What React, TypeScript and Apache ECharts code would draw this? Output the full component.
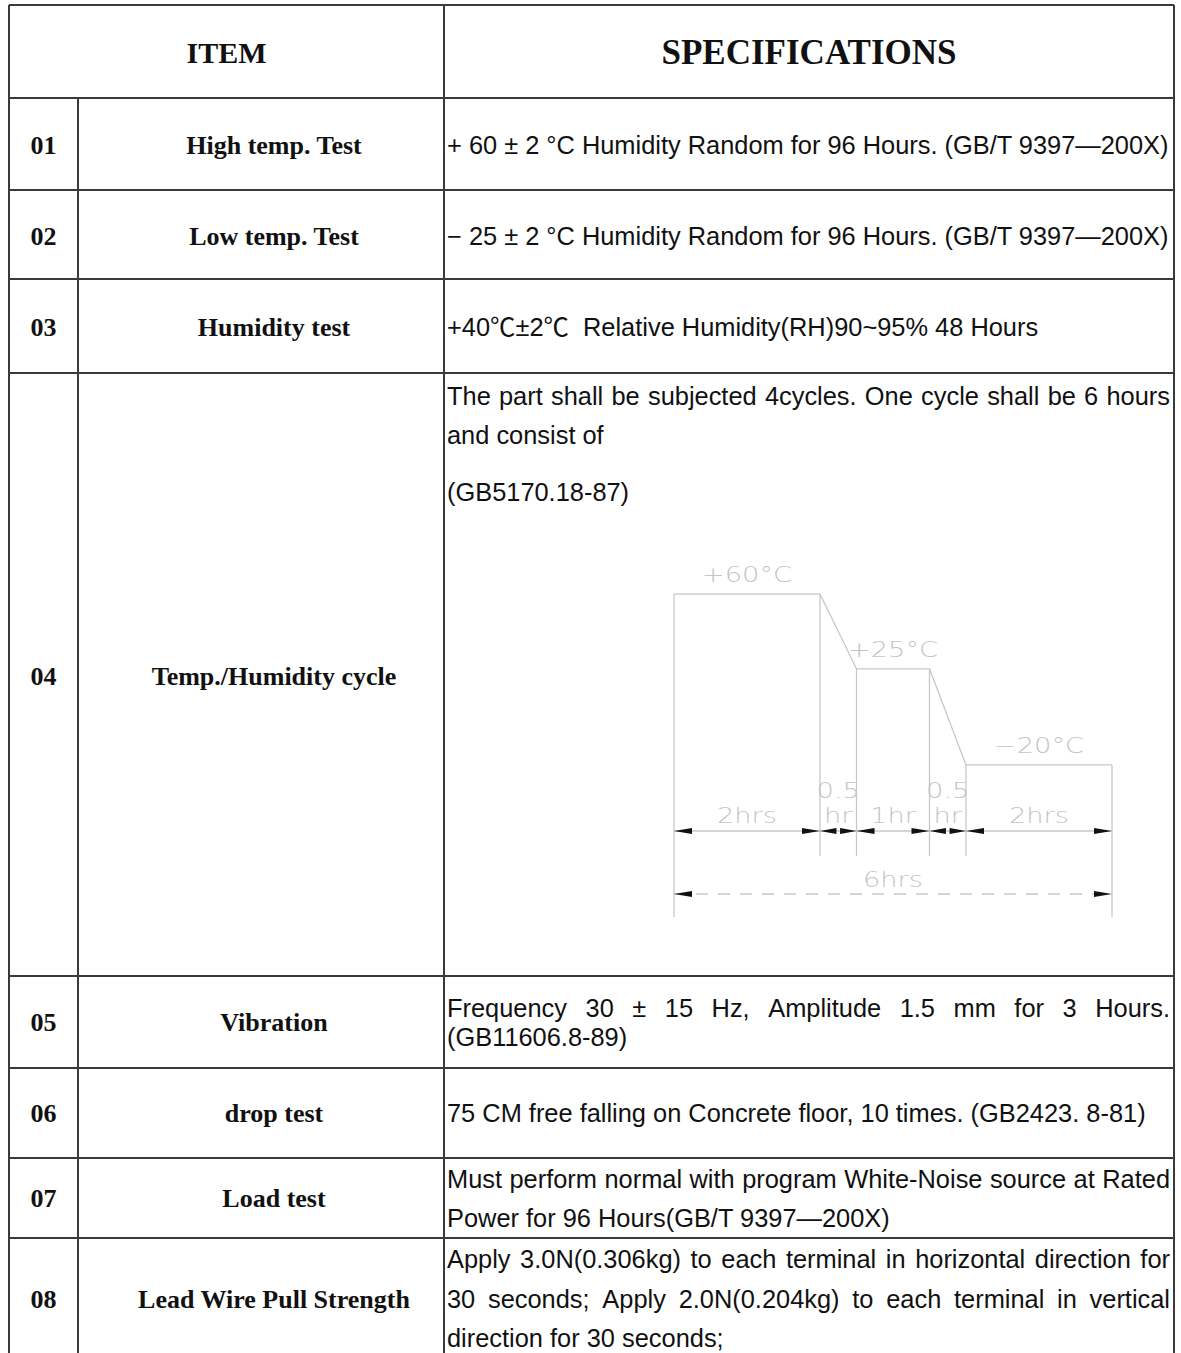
import React, { useEffect, useRef } from "react";
import * as echarts from "echarts";

// ---------------- DATA ----------------
const headerLabels = ["ITEM", "SPECIFICATIONS"];
const itemNos = ["01", "02", "03", "04", "05", "06", "07", "08"];
const itemNames = [
  "High temp. Test",
  "Low temp. Test",
  "Humidity test",
  "Temp./Humidity cycle",
  "Vibration",
  "drop test",
  "Load test",
  "Lead Wire Pull Strength",
];
const specLines: string[][] = [
  ["+ 60 ± 2 °C Humidity Random for 96 Hours. (GB/T 9397—200X)"],
  ["− 25 ± 2 °C Humidity Random for 96 Hours. (GB/T 9397—200X)"],
  ["+40℃±2℃  Relative Humidity(RH)90~95% 48 Hours"],
  ["The part shall be subjected 4cycles. One cycle shall be 6 hours", "and consist of", "(GB5170.18-87)"],
  ["Frequency 30 ± 15 Hz, Amplitude 1.5 mm for 3 Hours.", "(GB11606.8-89)"],
  ["75 CM free falling on Concrete floor, 10 times. (GB2423. 8-81)"],
  ["Must perform normal with program White-Noise source at Rated", "Power for 96 Hours(GB/T 9397—200X)"],
  [
    "Apply 3.0N(0.306kg) to each terminal in horizontal direction for",
    "30 seconds; Apply 2.0N(0.204kg) to each terminal in vertical",
    "direction for 30 seconds;",
  ],
];

// Temperature / humidity cycle (one 6 h cycle)
const profileHours = [0, 2, 2.5, 3.5, 4, 6];
const profileTemps = [60, 60, 25, 25, -20, -20];
const segmentLabels = ["2hrs", "0.5\nhr", "1hr", "0.5\nhr", "2hrs"];
const plateauLabels = ["+60°C", "+25°C", "−20°C"];
const cycleLabel = "6hrs";

// ---------------- LAYOUT / STYLE ----------------
const W = 1181;
const H = 1353;
const X_LEFT = 9;
const X_NO = 78;
const X_SPEC = 444;
const X_RIGHT = 1174;
const Y_TOP = 5;
const rowTops = [98, 190, 279, 373, 976, 1068, 1158, 1238];
const itemCenterY = [145, 236, 327, 676, 1022, 1113, 1198, 1299];
const specLineY = [[145], [236], [327], [396, 435, 492], [1008, 1037], [1113], [1179, 1218], [1259, 1299, 1338]];
const specJustify = [[false], [false], [false], [true, false, false], [true, false], [false], [true, false], [true, true, false]];
const NO_CX = 43.5;
const NAME_CX = 274;
const SPEC_X = 447;
const SPEC_R = 1170;

const BORDER = "#3a3a3a";
const TEXT = "#111";
const DIAG = "#c8c8c8";
const DIAG_TEXT = "#c4c4c4";
const ARROW = "#111";
const FONT_SPEC = "'Liberation Sans', Arial, 'Noto Sans CJK SC', sans-serif";
const FONT_SERIF = "'Liberation Serif', 'Times New Roman', serif";
const FONT_CAD = "'DejaVu Sans', sans-serif";
const SPEC_SIZE = 25.4;
const NAME_SIZE = 26;

const GRID = { left: 674, top: 594, width: 438, height: 171 };
const Y_MIN = -20;
const Y_MAX = 60;
const DIM_OFF = 66;
const EXT_OFF = 91;
const EXT_END_OFF = 152;
const CYCLE_OFF = 129;
const ARROW_LEN = 18;

const cadText = (text: string, x: number, y: number, va: string) => ({
  type: "text",
  x,
  y,
  scaleX: 1.3,
  style: {
    text,
    fill: DIAG_TEXT,
    fontSize: 21,
    fontFamily: FONT_CAD,
    fontWeight: 200,
    align: "center",
    verticalAlign: va,
    lineHeight: 25,
  },
});

function buildGraphic() {
  const els: any[] = [];
  const ln = (x1: number, y1: number, x2: number, y2: number) =>
    els.push({ type: "line", silent: true, shape: { x1, y1, x2, y2 }, style: { stroke: BORDER, lineWidth: 2 } });
  [Y_TOP, ...rowTops].forEach((y) => ln(X_LEFT, y, X_RIGHT, y));
  ln(X_LEFT, Y_TOP, X_LEFT, H);
  ln(X_RIGHT, Y_TOP, X_RIGHT, H);
  ln(X_SPEC, Y_TOP, X_SPEC, H);
  ln(X_NO, rowTops[0], X_NO, H);

  const txt = (text: string, x: number, y: number, size: number, family: string, bold: boolean, align: string) =>
    els.push({
      type: "text",
      silent: true,
      x,
      y,
      style: {
        text,
        fill: TEXT,
        fontSize: size,
        fontFamily: family,
        fontWeight: bold ? "bold" : "normal",
        align,
        verticalAlign: "middle",
      },
    });

  txt(headerLabels[0], (X_LEFT + X_SPEC) / 2, 52, 30, FONT_SERIF, true, "center");
  txt(headerLabels[1], (X_SPEC + X_RIGHT) / 2, 52, 35, FONT_SERIF, true, "center");

  const ctx = document.createElement("canvas").getContext("2d")!;
  ctx.font = `${SPEC_SIZE}px ${FONT_SPEC}`;

  itemNos.forEach((no, i) => {
    txt(no, NO_CX, itemCenterY[i], NAME_SIZE, FONT_SERIF, true, "center");
    txt(itemNames[i], NAME_CX, itemCenterY[i], NAME_SIZE, FONT_SERIF, true, "center");
    specLines[i].forEach((line, j) => {
      const y = specLineY[i][j];
      if (specJustify[i][j]) {
        const words = line.split(" ");
        const widths = words.map((w) => ctx.measureText(w).width);
        const total = widths.reduce((a, b) => a + b, 0);
        const gap = (SPEC_R - SPEC_X - total) / (words.length - 1);
        let x = SPEC_X;
        words.forEach((w, k) => {
          txt(w, x, y, SPEC_SIZE, FONT_SPEC, false, "left");
          x += widths[k] + gap;
        });
      } else {
        txt(line, SPEC_X, y, SPEC_SIZE, FONT_SPEC, false, "left");
      }
    });
  });
  return els;
}

export default function App() {
  const ref = useRef<HTMLDivElement>(null);
  useEffect(() => {
    if (!ref.current) return;
    const chart = echarts.init(ref.current, undefined, { renderer: "svg" });
    const profile = profileHours.map((t, i) => [t, profileTemps[i]]);
    const boundaries = profileHours.map((t, i) => [t, profileTemps[i], i]);
    const segments = profileHours.slice(0, -1).map((t, i) => [t, profileHours[i + 1], i]);
    const plateaus: number[][] = [];
    segments.forEach((s, i) => {
      if (profileTemps[i] === profileTemps[i + 1]) plateaus.push([s[0], s[1], profileTemps[i], plateaus.length]);
    });
    const cycle = [[profileHours[0], profileHours[profileHours.length - 1]]];
    const last = profileHours.length - 1;

    chart.setOption({
      animation: false,
      backgroundColor: "#ffffff",
      grid: { ...GRID, show: false },
      xAxis: { type: "value", min: profileHours[0], max: profileHours[last], show: false },
      yAxis: { type: "value", min: Y_MIN, max: Y_MAX, show: false },
      graphic: { elements: buildGraphic() },
      series: [
        {
          type: "line",
          data: profile,
          symbol: "none",
          silent: true,
          lineStyle: { color: DIAG, width: 1.3 },
        },
        {
          type: "custom",
          clip: false,
          silent: true,
          data: boundaries,
          renderItem: (_p: any, api: any) => {
            const p = api.coord([api.value(0), api.value(1)]);
            const base = api.coord([api.value(0), Y_MIN])[1];
            const idx = api.value(2);
            const end = idx === 0 || idx === last;
            return {
              type: "line",
              shape: { x1: p[0], y1: p[1], x2: p[0], y2: base + (end ? EXT_END_OFF : EXT_OFF) },
              style: { stroke: DIAG, lineWidth: 1.3 },
            };
          },
        },
        {
          type: "custom",
          clip: false,
          silent: true,
          data: segments,
          renderItem: (_p: any, api: any) => {
            const a = api.coord([api.value(0), Y_MIN]);
            const b = api.coord([api.value(1), Y_MIN]);
            const idx = api.value(2);
            const yd = a[1] + DIM_OFF;
            const L = Math.min(ARROW_LEN, (b[0] - a[0]) * 0.45);
            return {
              type: "group",
              children: [
                { type: "line", shape: { x1: a[0], y1: yd, x2: b[0], y2: yd }, style: { stroke: DIAG, lineWidth: 1.3 } },
                { type: "polygon", shape: { points: [[a[0], yd], [a[0] + L, yd - 3], [a[0] + L, yd + 3]] }, style: { fill: ARROW } },
                { type: "polygon", shape: { points: [[b[0], yd], [b[0] - L, yd - 3], [b[0] - L, yd + 3]] }, style: { fill: ARROW } },
                cadText(segmentLabels[idx], (a[0] + b[0]) / 2, yd - 3, "bottom"),
              ],
            };
          },
        },
        {
          type: "custom",
          clip: false,
          silent: true,
          data: plateaus,
          renderItem: (_p: any, api: any) => {
            const a = api.coord([api.value(0), api.value(2)]);
            const b = api.coord([api.value(1), api.value(2)]);
            return cadText(plateauLabels[api.value(3)], (a[0] + b[0]) / 2, a[1] - 19, "middle");
          },
        },
        {
          type: "custom",
          clip: false,
          silent: true,
          data: cycle,
          renderItem: (_p: any, api: any) => {
            const a = api.coord([api.value(0), Y_MIN]);
            const b = api.coord([api.value(1), Y_MIN]);
            const yd = a[1] + CYCLE_OFF;
            return {
              type: "group",
              children: [
                { type: "line", shape: { x1: a[0], y1: yd, x2: b[0], y2: yd }, style: { stroke: DIAG, lineWidth: 1.3, lineDash: [12, 10] } },
                { type: "polygon", shape: { points: [[a[0], yd], [a[0] + ARROW_LEN, yd - 3], [a[0] + ARROW_LEN, yd + 3]] }, style: { fill: ARROW } },
                { type: "polygon", shape: { points: [[b[0], yd], [b[0] - ARROW_LEN, yd - 3], [b[0] - ARROW_LEN, yd + 3]] }, style: { fill: ARROW } },
                cadText(cycleLabel, (a[0] + b[0]) / 2, yd - 14, "middle"),
              ],
            };
          },
        },
      ],
    });
    return () => chart.dispose();
  }, []);
  return <div ref={ref} style={{ position: "absolute", left: 0, top: 0, width: W, height: H }} />;
}
